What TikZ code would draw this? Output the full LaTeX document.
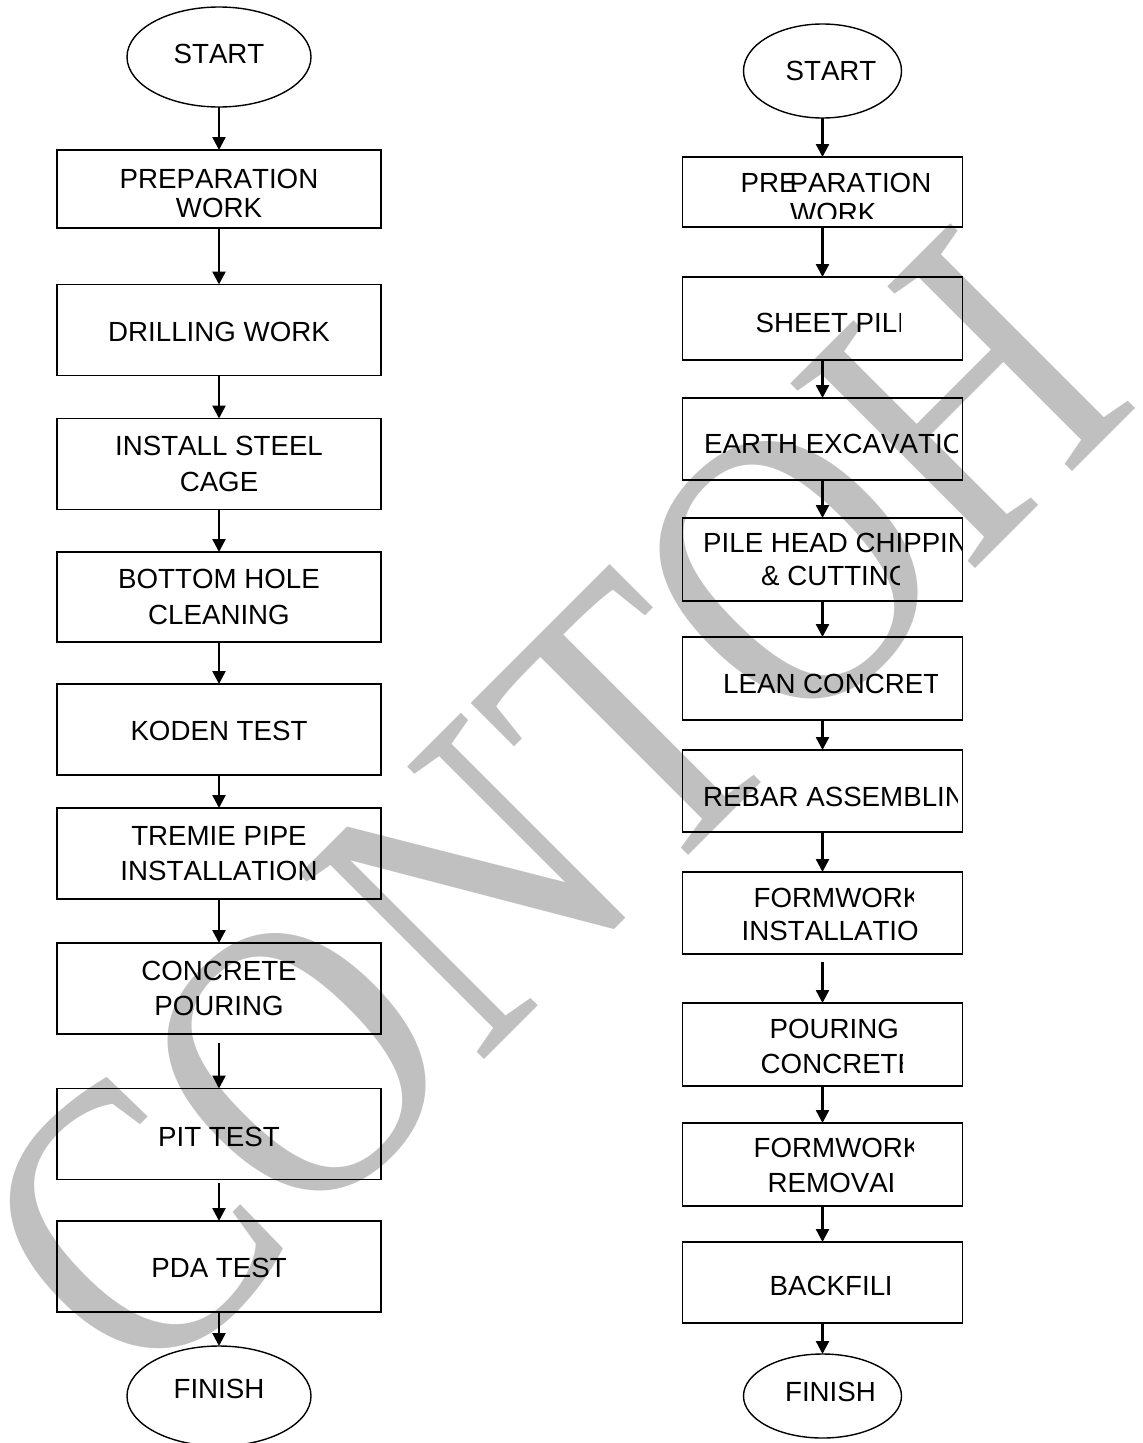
\documentclass[tikz,border=0pt]{standalone}
\usepackage{fontspec}
\usepackage{graphicx}
\setmainfont[Kerning=Off]{Liberation Sans}
\newfontfamily\wmfont{Liberation Serif}
\usetikzlibrary{shapes.geometric,arrows.meta}
\definecolor{wmgray}{RGB}{192,192,192}
% #1 left x, #2 baseline y, #3 clip right x, #4 name, #5 text
\newcommand\clipline[5]{%
  \begin{scope}
    \clip (#1-6,#2-30) rectangle (#3,#2+9);
    \node[txt,anchor=base west] (#4) at (#1,#2) {#5};
  \end{scope}}
\begin{document}
\begin{tikzpicture}[x=1pt,y=-1pt,
  lbox/.style={draw, line width=1.8pt, minimum width=324pt, minimum height=91pt, inner sep=0pt, outer sep=0pt},
  rbox/.style={draw, line width=1.8pt, minimum width=280pt, minimum height=83pt, inner sep=0pt, outer sep=0pt},
  oval/.style={ellipse, draw, line width=1.4pt, inner sep=0pt, outer sep=0pt},
  txt/.style={font=\fontsize{27.7}{33}\selectfont, inner sep=0pt, anchor=base},
  arr/.style={-{Triangle[width=13pt,length=13pt]}, line width=2.4pt}]
\useasboundingbox (0,0) rectangle (1143,1443);
\fill[white] (0,0) rectangle (1143,1443);

% watermark
\node[rotate=45, anchor=base west, text=wmgray, inner sep=0pt, font=\wmfont\fontsize{341}{341}\selectfont] (wm) at (142,1402) {\scalebox{1}[1.17]{CONTOH}};

% ---------------- left column ----------------
\node[oval, minimum width=184pt, minimum height=100pt] (l0) at (219,57) {};
\node[lbox, minimum height=78pt] (l1) at (219,189) {};
\node[lbox] (l2) at (219,330) {};
\node[lbox] (l3) at (219,464) {};
\node[lbox, minimum height=90pt] (l4) at (219,597) {};
\node[lbox] (l5) at (219,729.5) {};
\node[lbox] (l6) at (219,853.5) {};
\node[lbox] (l7) at (219,988.5) {};
\node[lbox] (l8) at (219,1134) {};
\node[lbox] (l9) at (219,1266.5) {};
\node[oval, minimum width=184pt, minimum height=100pt] (l10) at (219,1396) {};

\node[txt] (t0) at (219,63) {START};
\node[txt] (t1a) at (219,188) {PREPARATION};
\node[txt] (t1b) at (219,217.5) {WORK};
\node[txt] (t2) at (219,341) {DRILLING WORK};
\node[txt] (t3a) at (219,455) {INSTALL STEEL};
\node[txt] (t3b) at (219,491) {CAGE};
\node[txt] (t4a) at (219,588) {BOTTOM HOLE};
\node[txt] (t4b) at (219,624) {CLEANING};
\node[txt] (t5) at (219,740) {KODEN TEST};
\node[txt] (t6a) at (219,845) {TREMIE PIPE};
\node[txt] (t6b) at (219,880) {INSTALLATION};
\node[txt] (t7a) at (219,980) {CONCRETE};
\node[txt] (t7b) at (219,1015) {POURING};
\node[txt] (t8) at (219,1146) {PIT TEST};
\node[txt] (t9) at (219,1277) {PDA TEST};
\node[txt] (t10) at (219,1398) {FINISH};

\draw[arr] (l0) -- (l1);
\draw[arr] (l1) -- (l2);
\draw[arr] (l2) -- (l3);
\draw[arr] (l3) -- (l4);
\draw[arr] (l4) -- (l5);
\draw[arr] (l5) -- (l6);
\draw[arr] (l6) -- (l7);
\draw[arr, shorten <=9pt] (l7) -- (l8);
\draw[arr, shorten <=3pt] (l8) -- (l9);
\draw[arr] (l9) -- (l10);

% ---------------- right column ----------------
\node[oval, minimum width=158pt, minimum height=94pt] (r0) at (822.5,71) {};
\node[rbox, minimum height=70pt] (r1) at (822.5,192) {};
\node[rbox] (r2) at (822.5,318.5) {};
\node[rbox, minimum height=82pt] (r3) at (822.5,439) {};
\node[rbox] (r4) at (822.5,559.5) {};
\node[rbox] (r5) at (822.5,678.5) {};
\node[rbox, minimum height=82pt] (r6) at (822.5,791) {};
\node[rbox, minimum height=82pt] (r7) at (822.5,913) {};
\node[rbox] (r8) at (822.5,1044.5) {};
\node[rbox] (r9) at (822.5,1164.5) {};
\node[rbox, minimum height=81pt] (r10) at (822.5,1282.5) {};
\node[oval, minimum width=158pt, minimum height=84pt] (r11) at (822.5,1396) {};

\node[txt] (s0) at (831,80) {START};
\clipline{740.5}{192}{962}{s1a}{PRE\kern-8pt PARATION}
\begin{scope}
  \clip (780,195) rectangle (900,218);
  \node[txt,anchor=base west] (s1b) at (790,222) {WORK};
\end{scope}
\clipline{755.5}{332}{900.5}{s2}{SHEET PILE}
\clipline{704}{453}{957}{s3}{EARTH EXCAVATION}
\clipline{703}{552}{962}{s4a}{PILE HEAD CHIPPING}
\clipline{761}{585}{899}{s4b}{\& CUTTING}
\clipline{723}{693}{937}{s5}{LEAN CONCRETE}
\clipline{703}{806}{957}{s6}{REBAR ASSEMBLING}
\clipline{753.5}{907}{913}{s7a}{FORMWORK}
\clipline{741.5}{940}{918}{s7b}{INSTALLATION}
\node[txt,anchor=base west] (s8a) at (769.5,1038) {POURING};
\clipline{760.5}{1073}{902}{s8b}{CONCRETE}
\clipline{753.5}{1157}{913}{s9a}{FORMWORK}
\clipline{767.5}{1192}{892}{s9b}{REMOVAL}
\clipline{769.5}{1295}{889}{s10}{BACKFILL}
\node[txt] (s11) at (830.5,1401) {FINISH};

\draw[arr] (r0) -- (r1);
\draw[arr] (r1) -- (r2);
\draw[arr] (r2) -- (r3);
\draw[arr] (r3) -- (r4);
\draw[arr] (r4) -- (r5);
\draw[arr] (r5) -- (r6);
\draw[arr] (r6) -- (r7);
\draw[arr, shorten <=8pt] (r7) -- (r8);
\draw[arr] (r8) -- (r9);
\draw[arr] (r9) -- (r10);
\draw[arr] (r10) -- (r11);
\end{tikzpicture}
\end{document}
